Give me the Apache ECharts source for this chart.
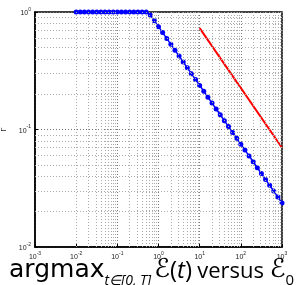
<!DOCTYPE html>
<html>
<head>
<meta charset="utf-8">
<script src="https://cdn.jsdelivr.net/npm/echarts@6/dist/echarts.min.js"></script>
<style>
html,body{margin:0;padding:0;background:#fff;}
#c{width:297px;height:285px;}
</style>
</head>
<body>
<div id="c"></div>
<script>
// E_0 values (log-spaced, 10 per decade from 1e-2 to 1e3)
var e0Values = [
  0.01, 0.01259, 0.01585, 0.01995, 0.02512, 0.03162, 0.03981, 0.05012, 0.0631, 0.07943,
  0.1, 0.1259, 0.1585, 0.1995, 0.2512, 0.3162, 0.3981, 0.5012, 0.631, 0.7943,
  1, 1.259, 1.585, 1.995, 2.512, 3.162, 3.981, 5.012, 6.31, 7.943,
  10, 12.59, 15.85, 19.95, 25.12, 31.62, 39.81, 50.12, 63.1, 79.43,
  100, 125.9, 158.5, 199.5, 251.2, 316.2, 398.1, 501.2, 631, 794.3,
  1000
];
// Gamma (blue curve)
var gammaValues = [
  1, 1, 1, 1, 1, 1, 1, 1, 1, 1,
  1, 1, 1, 1, 1, 1, 1, 1, 0.9442, 0.8415,
  0.75, 0.6684, 0.5957, 0.5309, 0.4732, 0.4217, 0.3759, 0.335, 0.2986, 0.2661,
  0.2372, 0.2114, 0.1884, 0.1679, 0.1496, 0.1334, 0.1189, 0.1059, 0.0944, 0.0841,
  0.075, 0.0668, 0.0596, 0.0531, 0.0473, 0.0422, 0.0376, 0.0335, 0.0299, 0.0266,
  0.0237
];
// Reference slope line (red)
var refX = [10, 1000];
var refY = [0.73, 0.07];

var xMin = 0.001, xMax = 1000;
var yMin = 0.01, yMax = 1;
var yName = 'Γ';

var blueData = e0Values.map(function (x, i) { return [x, gammaValues[i]]; });
var redData = refX.map(function (x, i) { return [x, refY[i]]; });

// minor log grid lines (2..9 x 10^k)
function minorVals(lo, hi) {
  var out = [];
  for (var k = Math.round(Math.log10(lo)); k < Math.round(Math.log10(hi)); k++) {
    for (var m = 2; m <= 9; m++) out.push(m * Math.pow(10, k));
  }
  return out;
}
var minorLines = [];
minorVals(xMin, xMax).forEach(function (v) { minorLines.push({ xAxis: v }); });
minorVals(yMin, yMax).forEach(function (v) { minorLines.push({ yAxis: v }); });

function expLabel(v) {
  var e = Math.round(Math.log10(v));
  return '{b|10}{s|' + e + '}';
}
var tickRich = {
  b: { fontSize: 7, fontFamily: 'Liberation Sans', color: '#222', verticalAlign: 'bottom', lineHeight: 10 },
  s: { fontSize: 5, fontFamily: 'Liberation Sans', color: '#222', verticalAlign: 'top', lineHeight: 10 }
};

var mainStyle = { fontFamily: 'Open Sans', fontWeight: 'normal', color: '#000', verticalAlign: 'bottom' };
function st(extra) { return Object.assign({}, mainStyle, extra); }

var chart = echarts.init(document.getElementById('c'), null, { renderer: 'canvas' });
chart.setOption({
  animation: false,
  backgroundColor: '#fff',
  grid: { left: 35, right: 15, top: 12, bottom: 38, containLabel: false, outerBoundsMode: 'none',
          show: true, borderColor: '#000', borderWidth: 1.5, backgroundColor: 'transparent' },
  title: {
    left: 9, top: 257, padding: 0,
    text: '{g|argmax}{s|t∈[0, T]}{sp| }{e|ℰ}{a|(}{i|t}{a|)}{sp2| }{v|versus }{e|ℰ}{z|0}',
    textStyle: {
      fontWeight: 'normal',
      rich: {
        g: st({ fontSize: 25, fontFamily: 'DejaVu Sans', padding: [0, 0, 5, 0] }),
        a: st({ fontSize: 24, padding: [0, 0, 5, 0] }),
        v: st({ fontSize: 22, padding: [0, 0, 5, 0] }),
        sp: st({ fontSize: 12, padding: [0, 0, 5, 0] }),
        sp2: st({ fontSize: 20, padding: [0, 0, 5, 0] }),
        e: st({ fontSize: 26, fontFamily: 'DejaVu Sans', padding: [0, 0, 5, 0] }),
        i: st({ fontSize: 24, fontStyle: 'italic', padding: [0, 0, 5, 0] }),
        s: st({ fontSize: 14, fontStyle: 'italic' }),
        z: st({ fontSize: 15 })
      }
    }
  },
  xAxis: {
    type: 'log', logBase: 10, min: xMin, max: xMax,
    axisLine: { show: true, lineStyle: { color: '#000', width: 1.5 } },
    axisTick: { show: true, inside: true, length: 3, lineStyle: { color: '#000' } },
    axisLabel: { formatter: expLabel, rich: tickRich, margin: 4 },
    splitLine: { show: true, lineStyle: { color: '#777', type: [1, 2], width: 1 } },
    minorTick: { show: false }, minorSplitLine: { show: false }
  },
  yAxis: {
    type: 'log', logBase: 10, min: yMin, max: yMax,
    name: yName, nameLocation: 'middle', nameGap: 25, nameRotate: 90,
    nameTextStyle: { fontSize: 7, fontFamily: 'Liberation Sans', color: '#222' },
    axisLine: { show: true, lineStyle: { color: '#000', width: 1.5 } },
    axisTick: { show: true, inside: true, length: 3, lineStyle: { color: '#000' } },
    axisLabel: { formatter: expLabel, rich: tickRich, margin: 4 },
    splitLine: { show: true, lineStyle: { color: '#777', type: [1, 2], width: 1 } },
    minorTick: { show: false }, minorSplitLine: { show: false }
  },
  series: [
    {
      type: 'line', data: [], silent: true, symbol: 'none',
      markLine: {
        silent: true, symbol: 'none', label: { show: false },
        lineStyle: { color: '#aaa', type: [1, 2], width: 1 },
        emphasis: { disabled: true },
        data: minorLines
      }
    },
    {
      type: 'line', data: blueData, color: '#0000ff',
      symbol: 'circle', symbolSize: 5, showSymbol: true,
      lineStyle: { color: '#0000ff', width: 1.5 },
      itemStyle: { color: '#0000ff' }, z: 3
    },
    {
      type: 'line', data: redData, symbol: 'none',
      lineStyle: { color: '#ff0000', width: 2 }, z: 4
    }
  ]
});
</script>
</body>
</html>
